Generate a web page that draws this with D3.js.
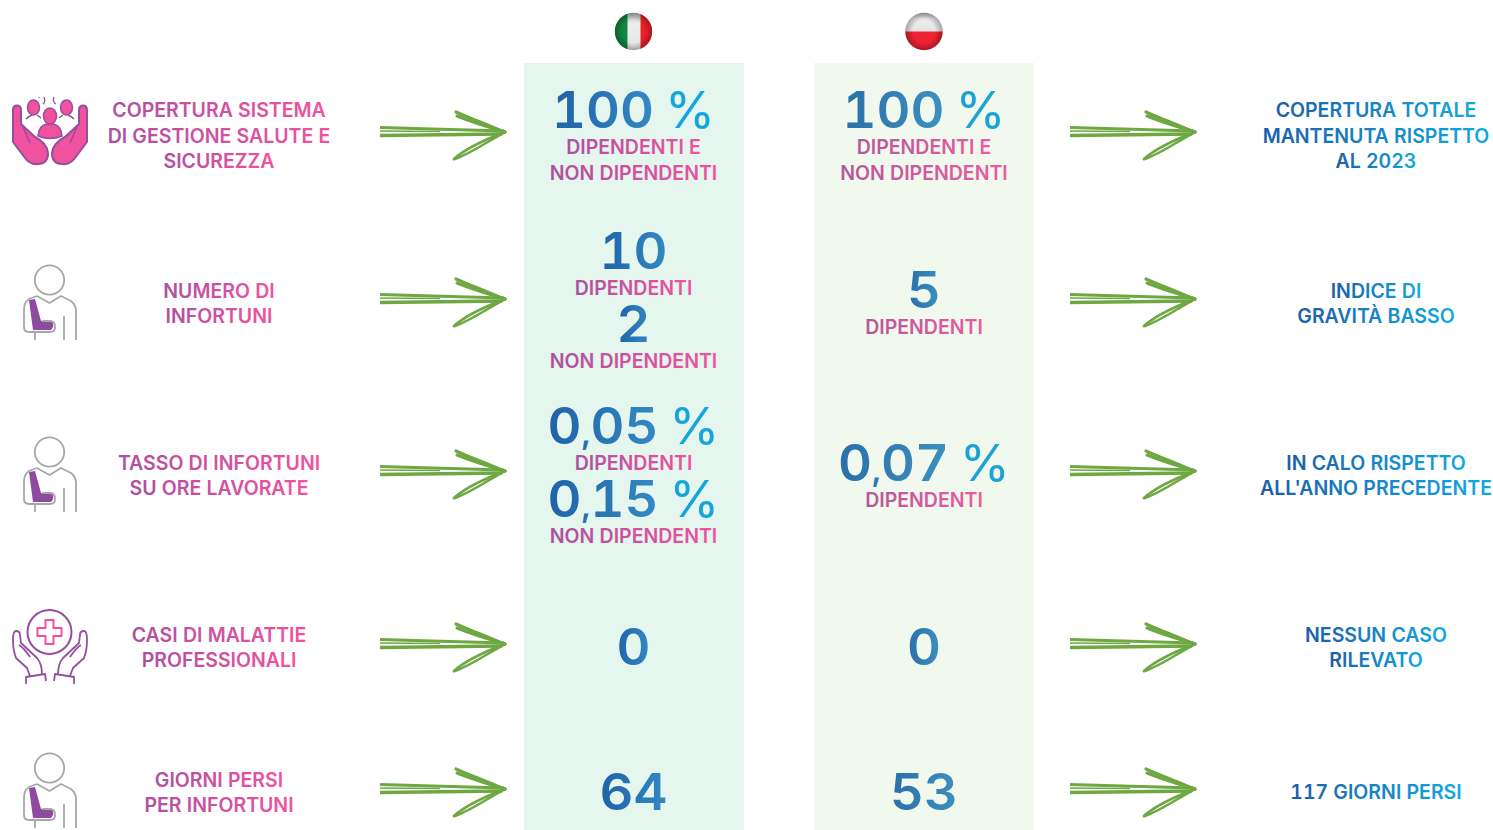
<!DOCTYPE html>
<html>
<head>
<meta charset="utf-8">
<script src="https://cdn.jsdelivr.net/npm/d3@7"></script>
<style>
    html, body { margin: 0; background: #fff; }
    svg { display: block; }
    text { font-family: Inter, "Liberation Sans", sans-serif; text-anchor: middle; font-variant-numeric: tabular-nums; }
</style>
</head>
<body>
<div id="chart"></div>
<script>
// values
const rows = ['coverage', 'injuries', 'rate', 'illness', 'days'];
const rowIcons = ['people', 'person', 'person', 'care', 'person'];

const rowLabels = [
    ['COPERTURA SISTEMA', 'DI GESTIONE SALUTE E', 'SICUREZZA'],
    ['NUMERO DI', 'INFORTUNI'],
    ['TASSO DI INFORTUNI', 'SU ORE LAVORATE'],
    ['CASI DI MALATTIE', 'PROFESSIONALI'],
    ['GIORNI PERSI', 'PER INFORTUNI'],
];

// b = big number, s = small caption
const italyValues = [
    [['b', '100 %'], ['s', 'DIPENDENTI E'], ['s', 'NON DIPENDENTI']],
    [['b', '10'], ['s', 'DIPENDENTI'], ['b', '2'], ['s', 'NON DIPENDENTI']],
    [['b', '0,05 %'], ['s', 'DIPENDENTI'], ['b', '0,15 %'], ['s', 'NON DIPENDENTI']],
    [['b', '0']],
    [['b', '64']],
];

const polandValues = [
    [['b', '100 %'], ['s', 'DIPENDENTI E'], ['s', 'NON DIPENDENTI']],
    [['b', '5'], ['s', 'DIPENDENTI']],
    [['b', '0,07 %'], ['s', 'DIPENDENTI']],
    [['b', '0']],
    [['b', '53']],
];

const outcomes = [
    ['COPERTURA TOTALE', 'MANTENUTA RISPETTO', 'AL 2023'],
    ['INDICE DI', 'GRAVITÀ BASSO'],
    ['IN CALO RISPETTO', 'ALL\'ANNO PRECEDENTE'],
    ['NESSUN CASO', 'RILEVATO'],
    ['117 GIORNI PERSI'],
];

const width = 1493, height = 830;

const x = d3.scaleOrdinal()
    .domain(['label', 'arrowLeft', 'italy', 'poland', 'arrowRight', 'outcome'])
    .range([219, 442.5, 633.5, 924, 1132.5, 1376]);
const arrowY = d3.scaleOrdinal().domain(rows).range([132, 299, 471, 644, 789]);
const labelY = d3.scaleOrdinal().domain(rows).range([135.5, 303, 475, 647, 792]);
const italyY = d3.scaleOrdinal().domain(rows).range([135, 300, 475, 646, 791]);
const polandY = d3.scaleOrdinal().domain(rows).range([135, 302, 475, 646, 791]);
const iconY = d3.scaleOrdinal().domain(rows).range([0, 0, 172, 0, 488]);

const svg = d3.select('#chart').append('svg')
    .attr('width', width)
    .attr('height', height);

const defs = svg.append('defs');

function gradient(id, from, to) {
    const g = defs.append('linearGradient').attr('id', id);
    g.append('stop').attr('offset', 0).attr('stop-color', from);
    g.append('stop').attr('offset', 1).attr('stop-color', to);
}
gradient('pink', '#ad50a0', '#f2529f');
gradient('pinkSoft', '#b4589b', '#ee5aa0');
gradient('blue', '#1b5ea8', '#10a9e1');
gradient('blueSoft', '#2a6fa9', '#14a5d8');
gradient('numBlue', '#1e62a8', '#3489c4');
gradient('numBlueSoft', '#2a6fa9', '#3d90c0');

const gloss = defs.append('linearGradient').attr('id', 'gloss').attr('x2', 0).attr('y2', 1);
gloss.append('stop').attr('offset', 0).attr('stop-color', '#b9b9b9');
gloss.append('stop').attr('offset', 0.3).attr('stop-color', '#eeeeee');
gloss.append('stop').attr('offset', 1).attr('stop-color', '#e4e4e4');

const shade = defs.append('radialGradient').attr('id', 'shade').attr('r', 0.5);
shade.append('stop').attr('offset', 0.6).attr('stop-color', '#000').attr('stop-opacity', 0);
shade.append('stop').attr('offset', 1).attr('stop-color', '#000').attr('stop-opacity', 0.3);

// column backgrounds
svg.append('rect').attr('x', 524).attr('y', 63).attr('width', 220).attr('height', 767).attr('fill', '#e5f6ee');
svg.append('rect').attr('x', 814).attr('y', 63).attr('width', 220).attr('height', 767).attr('fill', '#f1f9ee');

// flags
function flag(cx, cy, clipId, draw) {
    defs.append('clipPath').attr('id', clipId)
        .append('circle').attr('cx', cx).attr('cy', cy).attr('r', 18.7);
    const g = svg.append('g').attr('clip-path', `url(#${clipId})`);
    draw(g, cx - 19, cy - 19);
    svg.append('circle').attr('cx', cx).attr('cy', cy).attr('r', 18.7).attr('fill', 'url(#shade)');
}
flag(633.5, 31.5, 'clipItaly', (g, l, t) => {
    g.append('rect').attr('x', l).attr('y', t).attr('width', 38).attr('height', 38).attr('fill', 'url(#gloss)');
    g.append('rect').attr('x', l).attr('y', t).attr('width', 13).attr('height', 38).attr('fill', '#12873f');
    g.append('rect').attr('x', l + 26).attr('y', t).attr('width', 12).attr('height', 38).attr('fill', '#ed2028');
});
flag(924, 31.5, 'clipPoland', (g, l, t) => {
    g.append('rect').attr('x', l).attr('y', t).attr('width', 38).attr('height', 19).attr('fill', 'url(#gloss)');
    g.append('rect').attr('x', l).attr('y', t + 19).attr('width', 38).attr('height', 19).attr('fill', '#ee2232');
});

// stretched text, the original face is much wider than anything installed
function stretched(parent, cx, y, str, size, sx, weight, fill) {
    return parent.append('text')
        .attr('transform', `translate(${cx},${y}) scale(${sx},1)`)
        .attr('font-size', size)
        .attr('font-weight', weight)
        .attr('fill', fill)
        .text(str);
}

const smallSize = 19.5, smallStretch = 1.0, smallWeight = 600;
const bigSize = 51, bigStretch = 1.03, bigWeight = 600;
const commaSize = 32;
const pctStretch = 1.0, pctWeight = 400, pctGap = 11;

function bigNumber(cx, y, str, numFill, pctFill) {
    if (!str.endsWith(' %')) {
        stretched(svg, cx, y, str, bigSize, bigStretch, bigWeight, numFill);
        return;
    }
    const parts = str.slice(0, -2).split(',');
    const num = stretched(svg, cx, y, '', bigSize, bigStretch, bigWeight, numFill);
    parts.forEach((part, i) => {
        // the comma is kept short so it stays clear of the caption below
        if (i > 0) num.append('tspan').attr('font-size', commaSize).text(',');
        num.append('tspan').text(part);
    });
    const pct = stretched(svg, cx, y, '%', bigSize, pctStretch, pctWeight, pctFill);
    const numW = num.node().getComputedTextLength() * bigStretch;
    const pctW = pct.node().getComputedTextLength() * pctStretch;
    const left = cx - (numW + pctGap + pctW) / 2;
    num.attr('transform', `translate(${left + numW / 2},${y}) scale(${bigStretch},1)`);
    pct.attr('transform', `translate(${left + numW + pctGap + pctW / 2},${y}) scale(${pctStretch},1)`);
}

function lineBlock(lines, cx, centre, fill) {
    const step = 25.5, cap = 14.5;
    const first = centre - ((lines.length - 1) * step + cap) / 2 + cap;
    lines.forEach((line, i) => {
        stretched(svg, cx, first + i * step, line, smallSize, smallStretch, smallWeight, fill);
    });
}

function valueStack(items, cx, centre, numFill, pctFill, smallFill) {
    // baseline distance depends on what sits above
    const offsets = [items[0][0] === 'b' ? 37 : 14.5];
    for (let i = 1; i < items.length; i++) {
        const gap = items[i][0] === 'b' ? 47 : 26;
        offsets.push(offsets[i - 1] + gap);
    }
    const top = centre - offsets[offsets.length - 1] / 2;
    items.forEach((item, i) => {
        if (item[0] === 'b') {
            bigNumber(cx, top + offsets[i], item[1], numFill, pctFill);
        } else {
            stretched(svg, cx, top + offsets[i], item[1], smallSize, smallStretch, smallWeight, smallFill);
        }
    });
}

function arrow(cx, cy) {
    const g = svg.append('g')
        .attr('transform', `translate(${cx - 62.5},${cy})`)
        .attr('fill', 'none')
        .attr('stroke', '#6fa843')
        .attr('stroke-linecap', 'round');
    g.append('path').attr('d', 'M0,-4.5 L124,-1').attr('stroke-width', 3).attr('stroke-linecap', 'butt');
    g.append('path').attr('d', 'M0,-1 L60,-0.5').attr('stroke-width', 1.5).attr('stroke-linecap', 'butt');
    g.append('path').attr('d', 'M0,3.5 L122,2').attr('stroke-width', 3.4).attr('stroke-linecap', 'butt');
    g.append('path').attr('d', 'M76,-20 C92,-13 110,-6 125,0').attr('stroke-width', 3.2);
    g.append('path').attr('d', 'M77,-16 C92,-10 108,-5 125,0').attr('stroke-width', 3);
    g.append('path').attr('d', 'M74,27 C86,16 104,8 125,0').attr('stroke-width', 2.8);
    g.append('path').attr('d', 'M75,27 C92,21 108,9 125,0').attr('stroke-width', 2.6);
}

function iconPeople(g) {
    const hand = 'M13,110 Q13,105.5 17,105.5 Q21,105.5 21,110 L21,124 L35,137 Q47,143 48,153 Q48,164 38,164 Q30,165 25,158 L13,142 Z';
    const finger = 'M23,127 L30,143';
    [0, 1].forEach(m => {
        const s = g.append('g').attr('transform', m ? 'translate(100,0) scale(-1,1)' : null);
        s.append('path').attr('d', hand).attr('fill', '#f0529f').attr('stroke', '#92509f').attr('stroke-width', 2);
        s.append('path').attr('d', finger).attr('fill', 'none').attr('stroke', '#92509f').attr('stroke-width', 1.5);
        s.append('ellipse').attr('cx', 33.5).attr('cy', 107.5).attr('rx', 6).attr('ry', 7.5)
            .attr('fill', '#f0529f').attr('stroke', '#92509f').attr('stroke-width', 1.5);
        s.append('path').attr('d', 'M26,119 Q29,116 32,115 M37,115 L41,118').attr('fill', 'none')
            .attr('stroke', '#92509f').attr('stroke-width', 1.5);
    });
    g.append('ellipse').attr('cx', 50).attr('cy', 116).attr('rx', 6.5).attr('ry', 8)
        .attr('fill', '#f0529f').attr('stroke', '#92509f').attr('stroke-width', 1.5);
    g.append('path').attr('d', 'M38,136 Q39,125 47,124 L53,124 Q61,125 62,136 Q50,141 38,136 Z')
        .attr('fill', '#f0529f').attr('stroke', '#92509f').attr('stroke-width', 1.5);
    g.append('path').attr('d', 'M39,97 L39,98 M44,97 Q46,102 43,104 M54,97 Q52,102 56,104')
        .attr('fill', 'none').attr('stroke', '#92509f').attr('stroke-width', 1.3);
}

function iconPerson(g) {
    const p = d => g.append('path').attr('d', d).attr('fill', 'none')
        .attr('stroke', '#a7a7a9').attr('stroke-width', 1.8).attr('stroke-linejoin', 'round');
    g.append('circle').attr('cx', 49.5).attr('cy', 280).attr('r', 14.7)
        .attr('fill', 'none').attr('stroke', '#a7a7a9').attr('stroke-width', 1.8);
    g.append('path').attr('d', 'M29,300 L35,299 L41,321 L52,321 Q55,326 51,330 L33,330 Z').attr('fill', '#8e4a9e');
    p('M37,296 L49.5,303 L61,296 L71,301 Q76,305 76,311 L76,340');
    p('M37,296 L29,299 Q24,302 24,310 L24,327 Q24,332 29,332 L50,332 Q55,332 55,327 Q55,321 50,321 L42,321');
    p('M64,316 L64,340');
    p('M35,332 L35,340');
}

function iconCare(g) {
    g.append('circle').attr('cx', 49.5).attr('cy', 632).attr('r', 22)
        .attr('fill', 'none').attr('stroke', '#92509f').attr('stroke-width', 2);
    g.append('path').attr('d', 'M45.5,620 H53.5 V628 H61.5 V636 H53.5 V644 H45.5 V636 H37.5 V628 H45.5 Z')
        .attr('fill', 'none').attr('stroke', '#f0529f').attr('stroke-width', 2);
    [0, 1].forEach(m => {
        const s = g.append('g').attr('transform', m ? 'translate(100,0) scale(-1,1)' : null)
            .attr('fill', 'none').attr('stroke', '#92509f').attr('stroke-width', 1.8).attr('stroke-linejoin', 'round');
        s.append('path').attr('d', 'M30,676 L27,668 L16,658 Q13,650 13,640 Q13,631 16,631 Q20,631 20,635 L21,643 L37,658 Q42,664 42,674');
        s.append('path').attr('d', 'M19,645 Q24,648 30,657');
        s.append('path').attr('d', 'M26,684 L26,677 L45,674 L46,681');
    });
}

const iconDraw = { people: iconPeople, person: iconPerson, care: iconCare };

rows.forEach((row, i) => {
    const icon = svg.append('g').attr('transform', `translate(0,${iconY(row)})`);
    iconDraw[rowIcons[i]](icon);

    lineBlock(rowLabels[i], x('label'), labelY(row), 'url(#pink)');
    valueStack(italyValues[i], x('italy'), italyY(row), 'url(#numBlue)', '#14a5dc', 'url(#pink)');
    valueStack(polandValues[i], x('poland'), polandY(row), 'url(#numBlueSoft)', '#1ba3d6', 'url(#pinkSoft)');
    lineBlock(outcomes[i], x('outcome'), labelY(row), 'url(#blue)');

    arrow(x('arrowLeft'), arrowY(row));
    arrow(x('arrowRight'), arrowY(row));
});
</script>
</body>
</html>
